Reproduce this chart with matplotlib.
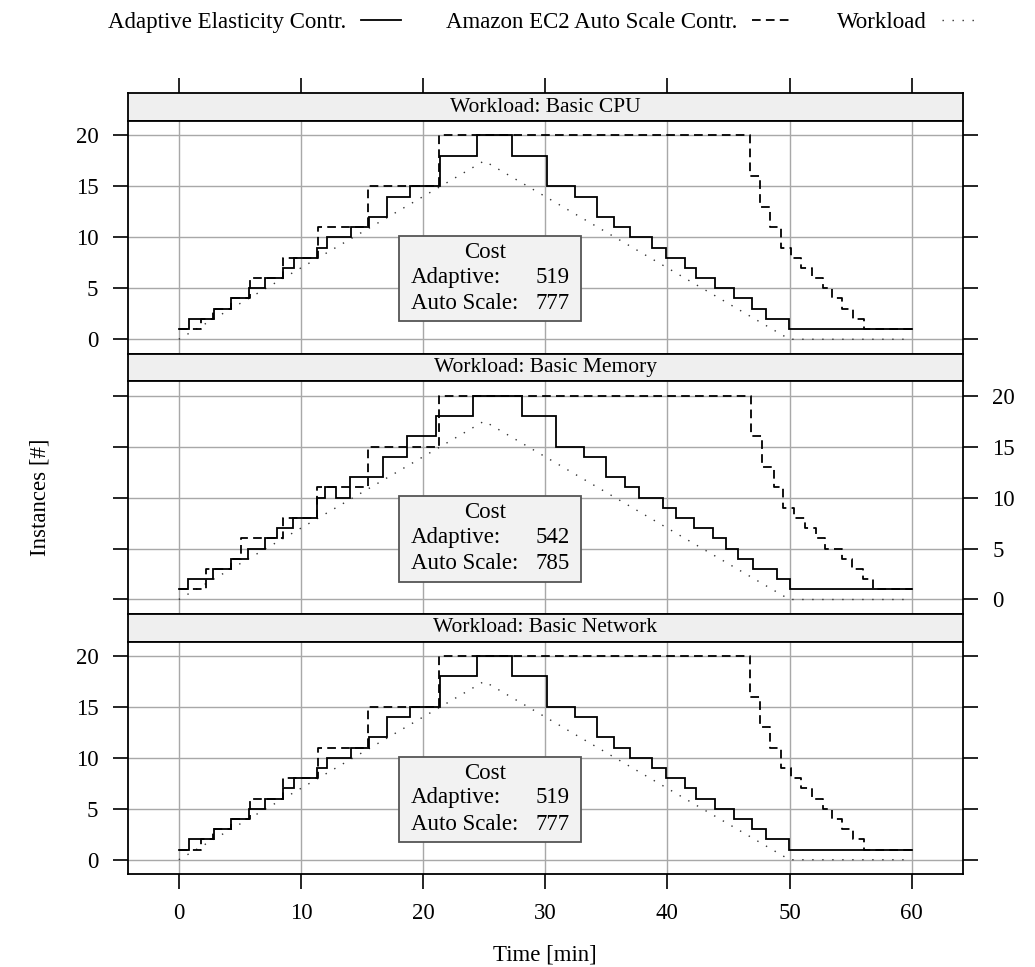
import matplotlib
matplotlib.use("Agg")
import matplotlib.pyplot as plt
from matplotlib.lines import Line2D
from matplotlib.patches import Rectangle

plt.rcParams['font.family'] = ['Liberation Serif', 'DejaVu Serif']

# panel titles and cost summary
workloads = ["Basic CPU", "Basic Memory", "Basic Network"]
cost_adaptive = [519, 542, 519]
cost_autoscale = [777, 785, 777]

# workload curve (triangle), same for all panels
wl_time = [0, 25, 50, 60]
wl_value = [0, 17.5, 0, 0]

# adaptive controller, CPU / Network panels
ad_time_cpu = [0, 0.82, 2.86, 4.31, 5.73, 7.09, 8.54, 9.41, 11.32, 12.14, 14.13, 15.54,
               17.04, 18.9, 21.35, 24.41, 27.27, 30.13, 32.42, 34.25, 35.6, 36.92, 38.77,
               39.87, 41.42, 42.34, 43.89, 45.44, 46.93, 48.05, 49.99, 60]
ad_inst_cpu = [1, 2, 3, 4, 5, 6, 7, 8, 9, 10, 11, 12, 14, 15, 18, 20, 18, 15, 14, 12, 11,
               10, 9, 8, 7, 6, 5, 4, 3, 2, 1, 1]

# adaptive controller, Memory panel
ad_time_mem = [0, 0.73, 2.78, 4.27, 5.63, 7.02, 8.03, 9.33, 11.29, 11.97, 12.84, 14.01,
               16.73, 18.69, 21.09, 24.1, 28.1, 30.9, 33.2, 34.95, 36.5, 37.67, 39.64,
               40.68, 42.18, 43.76, 44.77, 45.81, 46.97, 48.96, 50.0, 60]
ad_inst_mem = [1, 2, 3, 4, 5, 6, 7, 8, 10, 11, 10, 12, 14, 16, 18, 20, 18, 15, 14, 12, 11,
               10, 9, 8, 7, 6, 5, 4, 3, 2, 1, 1]

# EC2 auto scale controller, CPU / Network panels
as_time_cpu = [0, 1.8, 2.8, 4.3, 5.8, 8.57, 11.4, 15.5, 21.3, 46.8, 47.6, 48.4, 49.3,
               50.1, 50.95, 51.8, 52.7, 53.5, 54.3, 55.2, 56.1, 60]
as_inst_cpu = [1, 2, 3, 4, 6, 8, 11, 15, 20, 16, 13, 11, 9, 8, 7, 6, 5, 4, 3, 2, 1, 1]

# EC2 auto scale controller, Memory panel
as_time_mem = [0, 2.2, 4.3, 5.1, 8.57, 11.3, 15.5, 21.3, 46.87, 47.74, 48.69, 49.5,
               50.38, 51.3, 52.15, 52.92, 54.3, 55.1, 56.0, 56.8, 60]
as_inst_mem = [1, 3, 4, 6, 8, 11, 15, 20, 16, 13, 11, 9, 8, 7, 6, 5, 4, 3, 2, 1, 1]

ad_series = [(ad_time_cpu, ad_inst_cpu), (ad_time_mem, ad_inst_mem), (ad_time_cpu, ad_inst_cpu)]
as_series = [(as_time_cpu, as_inst_cpu), (as_time_mem, as_inst_mem), (as_time_cpu, as_inst_cpu)]

x_ticks = [0, 10, 20, 30, 40, 50, 60]
y_ticks = [0, 5, 10, 15, 20]

FS = 16.5
FS_STRIP = 15.5
W, H = 1035, 967
fig = plt.figure(figsize=(W / 100, H / 100), dpi=100)

left, right = 127.5, 963
top0, bottom_end = 93.3, 874
block = (bottom_end - top0) / 3
strip_h = 27.8

solid = dict(color='black', lw=1.3, solid_joinstyle='miter')
dashed = dict(color='black', lw=1.3, linestyle=(0, (4.8, 2.9)))
dotted = dict(color='#333333', lw=1.0, linestyle=(0, (1, 6.2)))

for i in range(3):
    s_top = top0 + i * block
    p_top = s_top + strip_h
    p_bot = top0 + (i + 1) * block

    # strip on top of each panel
    sax = fig.add_axes([left / W, 1 - p_top / H, (right - left) / W, strip_h / H])
    sax.set_facecolor('#efefef')
    sax.set_xlim(-4.2, 64.2)
    sax.set_ylim(0, 1)
    sax.set_yticks([])
    sax.text(0.5, 0.5, "Workload: " + workloads[i], transform=sax.transAxes,
             ha='center', va='center', fontsize=FS_STRIP)
    if i == 0:
        sax.set_xticks(x_ticks)
        sax.tick_params(axis='x', top=True, bottom=False, labeltop=False, labelbottom=False,
                        direction='out', length=11, width=1.2)
    else:
        sax.set_xticks([])
    for sp in sax.spines.values():
        sp.set_linewidth(1.3)

    ax = fig.add_axes([left / W, 1 - p_bot / H, (right - left) / W, (p_bot - p_top) / H])
    ax.set_xlim(-4.2, 64.2)
    ax.set_ylim(-1.4, 21.4)
    ax.set_xticks(x_ticks)
    ax.set_yticks(y_ticks)
    ax.grid(True, color='#a8a8a8', lw=1.0, zorder=0)
    ax.set_axisbelow(True)
    for sp in ax.spines.values():
        sp.set_linewidth(1.3)

    ax.plot(wl_time, wl_value, zorder=2, **dotted)
    ax.step(*as_series[i], where='post', zorder=3, **dashed)
    ax.step(*ad_series[i], where='post', zorder=4, **solid)

    # cost box
    ax.add_patch(Rectangle((18.0, 1.76), 14.9, 8.35, facecolor='#f2f2f2',
                           edgecolor='#555555', lw=1.3, zorder=5))
    ax.text(25.1, 8.5, "Cost", ha='center', va='center', fontsize=FS, zorder=6)
    ax.text(19.0, 6.1, "Adaptive:", ha='left', va='center', fontsize=FS, zorder=6)
    ax.text(32.0, 6.1, str(cost_adaptive[i]), ha='right', va='center', fontsize=FS, zorder=6)
    ax.text(19.0, 3.5, "Auto Scale:", ha='left', va='center', fontsize=FS, zorder=6)
    ax.text(32.0, 3.5, str(cost_autoscale[i]), ha='right', va='center', fontsize=FS, zorder=6)

    # alternating lattice-style tick labels
    label_left = (i != 1)
    ax.tick_params(axis='y', left=True, right=True, labelleft=label_left,
                   labelright=not label_left, direction='out', length=11, width=1.2,
                   labelsize=FS, pad=10)
    ax.tick_params(axis='x', top=False, bottom=(i == 2), labelbottom=(i == 2),
                   direction='out', length=11, width=1.2, labelsize=FS, pad=10)

fig.text(40 / W, 1 - 497 / H, "Instances [#]", rotation=90, ha='center', va='center',
         fontsize=FS)
fig.text(545 / W, 1 - 955 / H, "Time [min]", ha='center', va='center', fontsize=FS)

handles = [Line2D([], [], **solid), Line2D([], [], **dashed), Line2D([], [], **dotted)]
labels = ["Adaptive Elasticity Contr.", "Amazon EC2 Auto Scale Contr.", "Workload"]
fig.legend(handles, labels, loc='center', bbox_to_anchor=(545 / W, 1 - 22 / H), ncol=3,
           frameon=False, markerfirst=False, fontsize=FS, handlelength=1.75,
           handletextpad=0.65, columnspacing=1.95)

fig.savefig("out.png", dpi=100)
